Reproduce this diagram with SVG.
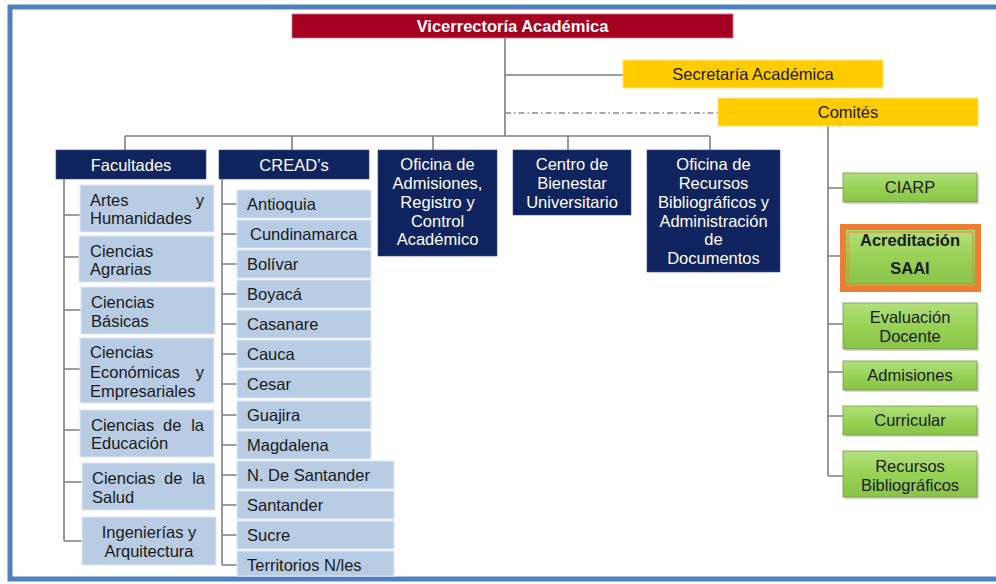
<svg xmlns="http://www.w3.org/2000/svg" width="996" height="584" viewBox="0 0 996 584">
<style>
text{font-family:"Liberation Sans",Arial,sans-serif;font-size:16.5px}
.w{fill:#ffffff}
.wb{fill:#ffffff;font-weight:bold}
.k{fill:#1a1a1a}
.kb{fill:#1a1a1a;font-weight:bold}
.c{text-anchor:middle}
.e{text-anchor:end}
.navy{fill:#0f245e;stroke:#3a4f80;stroke-width:0.6}
.lb{fill:#b8cce4;stroke:#dfe8f3;stroke-width:1}
.yel{fill:#ffcc00;stroke:#ffe27a;stroke-width:1}
.grn{fill:url(#g);stroke:#6f9e3a;stroke-width:0.8}
.sh{fill:#8c8c8c;opacity:0.35}
.ln{stroke:#7f7f7f;stroke-width:1.6;fill:none}
</style>
<defs>
<linearGradient id="g" x1="0" y1="0" x2="0" y2="1">
<stop offset="0" stop-color="#b2e07c"/>
<stop offset="0.5" stop-color="#98d255"/>
<stop offset="1" stop-color="#88c448"/>
</linearGradient>
</defs>
<rect x="0" y="0" width="996" height="584" fill="#ffffff"/>
<rect x="10" y="7" width="1000" height="572" fill="none" stroke="#4f81bd" stroke-width="5"/>

<g id="connectors">
<path class="ln" d="M505 38V136M505 75H623M125 136H710M125 136V150M292 136V150M433 136V150M568 136V150M710 136V150"/>
<path d="M505 113H718" stroke="#8a8a8a" stroke-width="1.5" stroke-dasharray="6 3 1.5 3" fill="none"/>
<path class="ln" d="M828 126V476M828 188H843M828 256H840M828 324H843M828 372H843M828 416H843M828 476H843"/>
<path class="ln" d="M64 179V541M64 215H80M64 257H79M64 310H81M64 369H80M64 430H80M64 482H82M64 541H82"/>
<path class="ln" d="M222 179V565M222 204H237M222 234H237M222 264H237M222 294H237M222 324H237M222 354H237M222 384H237M222 415H237M222 445H237M222 475H237M222 505H237M222 535H237M222 565H237"/>
</g>

<g id="vicerrectoria">
<rect x="292" y="14" width="441" height="24" fill="#a50021" stroke="#d9737f" stroke-width="0.8"/>
<text class="wb c" x="512.5" y="31.5">Vicerrectoría Académica</text>
</g>
<g id="secretaria">
<rect class="yel" x="623" y="60" width="260" height="28"/>
<text class="k c" x="753" y="80">Secretaría Académica</text>
</g>
<g id="comites">
<rect class="yel" x="718" y="98" width="260" height="28"/>
<text class="k c" x="848" y="118">Comités</text>
</g>

<g id="facultades">
<rect class="navy" x="56" y="150" width="150" height="29"/>
<text class="w c" x="131" y="171">Facultades</text>
</g>
<g id="creads">
<rect class="navy" x="219" y="150" width="150" height="29"/>
<text class="w c" x="294" y="171">CREAD’s</text>
</g>
<g id="oficina-admisiones">
<rect class="navy" x="378" y="150" width="119" height="106"/>
<text class="w c" x="437.5" y="170">Oficina de</text>
<text class="w c" x="437.5" y="189">Admisiones,</text>
<text class="w c" x="437.5" y="208">Registro y</text>
<text class="w c" x="437.5" y="227">Control</text>
<text class="w c" x="437.5" y="245">Académico</text>
</g>
<g id="centro-bienestar">
<rect class="navy" x="513" y="150" width="118" height="65"/>
<text class="w c" x="572" y="170">Centro de</text>
<text class="w c" x="572" y="189">Bienestar</text>
<text class="w c" x="572" y="208">Universitario</text>
</g>
<g id="oficina-recursos">
<rect class="navy" x="647" y="150" width="133" height="122"/>
<text class="w c" x="713.5" y="170">Oficina de</text>
<text class="w c" x="713.5" y="189">Recursos</text>
<text class="w c" x="713.5" y="208">Bibliográficos y</text>
<text class="w c" x="713.5" y="227">Administración</text>
<text class="w c" x="713.5" y="245">de</text>
<text class="w c" x="713.5" y="264">Documentos</text>
</g>

<g id="fac-artes">
<rect class="lb" x="80" y="185" width="134" height="47"/>
<text class="k" x="90" y="206">Artes</text><text class="k e" x="204" y="206">y</text>
<text class="k" x="90" y="224">Humanidades</text>
</g>
<g id="fac-agrarias">
<rect class="lb" x="79" y="236" width="135" height="46"/>
<text class="k" x="90" y="257">Ciencias</text>
<text class="k" x="90" y="275">Agrarias</text>
</g>
<g id="fac-basicas">
<rect class="lb" x="81" y="287" width="134" height="47"/>
<text class="k" x="91" y="308">Ciencias</text>
<text class="k" x="91" y="327">Básicas</text>
</g>
<g id="fac-economicas">
<rect class="lb" x="80" y="338" width="134" height="65"/>
<text class="k" x="90" y="358">Ciencias</text>
<text class="k" x="90" y="378">Económicas</text><text class="k e" x="204" y="378">y</text>
<text class="k" x="90" y="397">Empresariales</text>
</g>
<g id="fac-educacion">
<rect class="lb" x="80" y="410" width="134" height="47"/>
<text class="k" x="91" y="431">Ciencias</text><text class="k" x="163" y="431">de</text><text class="k e" x="204" y="431">la</text>
<text class="k" x="91" y="449">Educación</text>
</g>
<g id="fac-salud">
<rect class="lb" x="82" y="463" width="133" height="47"/>
<text class="k" x="92" y="484">Ciencias</text><text class="k" x="164" y="484">de</text><text class="k e" x="205" y="484">la</text>
<text class="k" x="92" y="503">Salud</text>
</g>
<g id="fac-ingenierias">
<rect class="lb" x="82" y="517" width="134" height="48"/>
<text class="k c" x="149" y="538">Ingenierías y</text>
<text class="k c" x="149" y="557">Arquitectura</text>
</g>

<g id="cread-antioquia"><rect class="lb" x="237" y="190" width="134" height="28"/><text class="k" x="247" y="210">Antioquia</text></g>
<g id="cread-cundinamarca"><rect class="lb" x="237" y="220" width="134" height="28"/><text class="k" x="250" y="240">Cundinamarca</text></g>
<g id="cread-bolivar"><rect class="lb" x="237" y="250" width="134" height="28"/><text class="k" x="247" y="270">Bolívar</text></g>
<g id="cread-boyaca"><rect class="lb" x="237" y="280" width="134" height="28"/><text class="k" x="247" y="300">Boyacá</text></g>
<g id="cread-casanare"><rect class="lb" x="237" y="310" width="134" height="28"/><text class="k" x="247" y="330">Casanare</text></g>
<g id="cread-cauca"><rect class="lb" x="237" y="340" width="134" height="28"/><text class="k" x="247" y="360">Cauca</text></g>
<g id="cread-cesar"><rect class="lb" x="237" y="370" width="134" height="28"/><text class="k" x="247" y="390">Cesar</text></g>
<g id="cread-guajira"><rect class="lb" x="237" y="401" width="134" height="28"/><text class="k" x="247" y="421">Guajira</text></g>
<g id="cread-magdalena"><rect class="lb" x="237" y="431" width="134" height="28"/><text class="k" x="247" y="451">Magdalena</text></g>
<g id="cread-nsantander"><rect class="lb" x="237" y="461" width="157" height="28"/><text class="k" x="247" y="481">N. De Santander</text></g>
<g id="cread-santander"><rect class="lb" x="237" y="491" width="157" height="28"/><text class="k" x="247" y="511">Santander</text></g>
<g id="cread-sucre"><rect class="lb" x="237" y="521" width="157" height="28"/><text class="k" x="247" y="541">Sucre</text></g>
<g id="cread-territorios"><rect class="lb" x="237" y="551" width="157" height="25"/><text class="k" x="247" y="571">Territorios N/les</text></g>

<g id="com-ciarp">
<rect class="sh" x="845" y="175" width="134" height="29"/>
<rect class="grn" x="843" y="173" width="134" height="29"/>
<text class="k c" x="910" y="193">CIARP</text>
</g>
<g id="com-acreditacion">
<rect x="840" y="224" width="141" height="68" fill="#ed7d31"/>
<rect x="846" y="230" width="129" height="56" fill="url(#g)"/>
<rect x="848" y="232" width="125" height="52" fill="none" stroke="#ed7d31" stroke-width="1"/>
<text class="kb c" x="910" y="246">Acreditación</text>
<text class="kb c" x="910" y="274">SAAI</text>
</g>
<g id="com-evaluacion">
<rect class="sh" x="845" y="305" width="134" height="46"/>
<rect class="grn" x="843" y="303" width="134" height="46"/>
<text class="k c" x="910" y="323">Evaluación</text>
<text class="k c" x="910" y="342">Docente</text>
</g>
<g id="com-admisiones">
<rect class="sh" x="845" y="363" width="134" height="29"/>
<rect class="grn" x="843" y="361" width="134" height="29"/>
<text class="k c" x="910" y="381">Admisiones</text>
</g>
<g id="com-curricular">
<rect class="sh" x="845" y="408" width="134" height="29"/>
<rect class="grn" x="843" y="406" width="134" height="29"/>
<text class="k c" x="910" y="426">Curricular</text>
</g>
<g id="com-recursos">
<rect class="sh" x="845" y="453" width="134" height="46"/>
<rect class="grn" x="843" y="451" width="134" height="46"/>
<text class="k c" x="910" y="472">Recursos</text>
<text class="k c" x="910" y="491">Bibliográficos</text>
</g>
</svg>
